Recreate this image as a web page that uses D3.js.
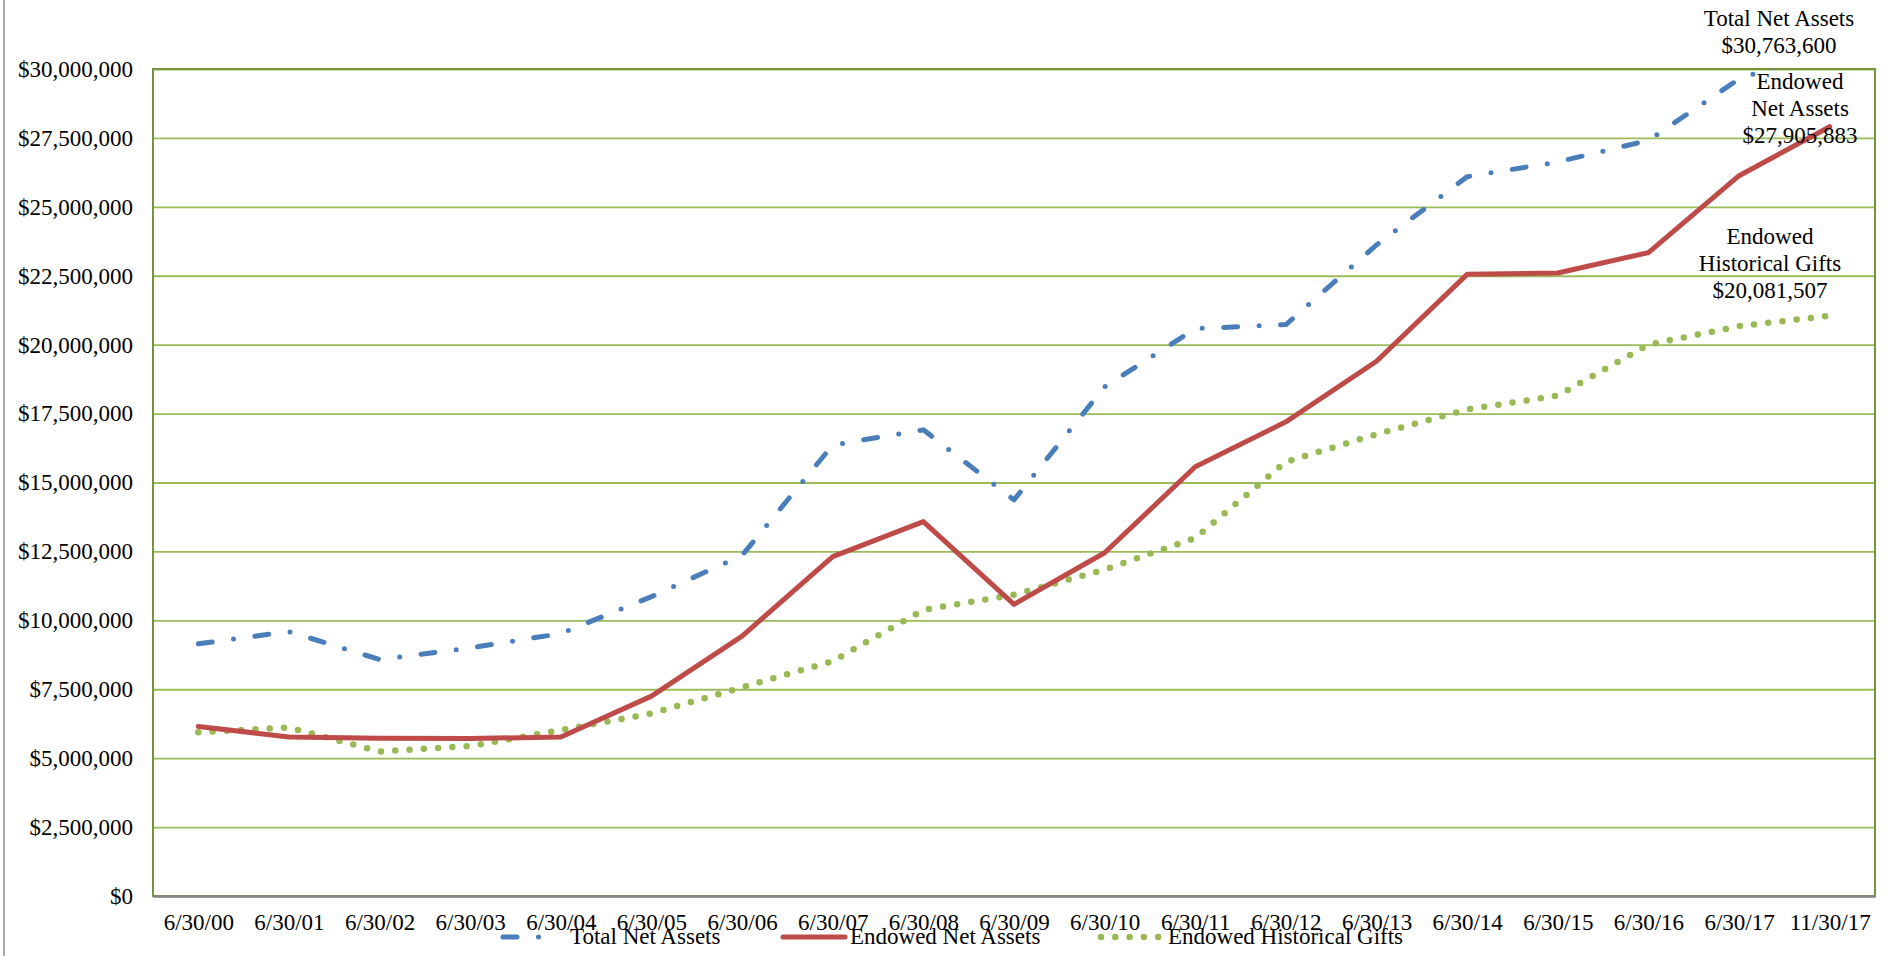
<!DOCTYPE html>
<html>
<head>
<meta charset="utf-8">
<script src="https://cdnjs.cloudflare.com/ajax/libs/d3/7.8.5/d3.min.js"></script>
<style>
  body { margin: 0; background: #fff; }
  svg { display: block; font-family: 'Liberation Serif', 'Times New Roman', serif; }
</style>
</head>
<body>
<svg></svg>
<script>
// categories (x axis)
var dates = ['6/30/00', '6/30/01', '6/30/02', '6/30/03', '6/30/04', '6/30/05', '6/30/06',
             '6/30/07', '6/30/08', '6/30/09', '6/30/10', '6/30/11', '6/30/12', '6/30/13',
             '6/30/14', '6/30/15', '6/30/16', '6/30/17', '11/30/17'];

// series values, dollars
var totalNetAssets = [9150000, 9590000, 8580000, 9000000, 9520000, 10860000, 12360000,
                      16360000, 16910000, 14370000, 18470000, 20580000, 20730000, 23620000,
                      26090000, 26630000, 27410000, 29640000, 30763600];
var endowedNetAssets = [6150000, 5770000, 5720000, 5710000, 5770000, 7250000, 9430000,
                        12310000, 13580000, 10580000, 12450000, 15570000, 17200000, 19400000,
                        22550000, 22600000, 23340000, 26130000, 27905883];
var historicalGifts = [5940000, 6110000, 5240000, 5440000, 6020000, 6620000, 7570000,
                       8520000, 10380000, 10930000, 11840000, 12990000, 15750000, 16750000,
                       17650000, 18150000, 20000000, 20670000, 21050000];

// y axis ticks
var yTicks = [0, 2500000, 5000000, 7500000, 10000000, 12500000, 15000000,
              17500000, 20000000, 22500000, 25000000, 27500000, 30000000];

// end-of-line notes
var notes = [
    ['Total Net Assets', '$30,763,600'],
    ['Endowed', 'Net Assets', '$27,905,883'],
    ['Endowed', 'Historical Gifts', '$20,081,507']
];

var width = 1892;
var height = 956;
var plotLeft = 153, plotRight = 1875, plotTop = 69, plotBottom = 896;

var series = [
    { name: 'Total Net Assets', values: totalNetAssets, color: '#4A7EBB', w: 5, dash: '14 21.5 0 21.5', key: 57 },
    { name: 'Endowed Net Assets', values: endowedNetAssets, color: '#BE4B48', w: 5, dash: null, key: 62 },
    { name: 'Endowed Historical Gifts', values: historicalGifts, color: '#98B954', w: 6.5, dash: '0 14.3', key: 62 }
];

var svg = d3.select('svg')
            .attr('width', width)
            .attr('height', height);

var xScale = d3.scalePoint()
               .domain(dates)
               .range([plotLeft, plotRight])
               .padding(0.5);

var yScale = d3.scaleLinear()
               .domain([0, 30000000])
               .range([plotBottom, plotTop]);

// outer frame edge
svg.append('line')
    .attr('x1', 4).attr('x2', 4)
    .attr('y1', 0).attr('y2', height)
    .attr('stroke', '#8c8c8c')
    .attr('stroke-width', 1.5);

//gridlines
svg.append('g')
    .attr('transform', 'translate(' + plotLeft + ',0)')
    .call(d3.axisLeft(yScale).tickValues(yTicks).tickSize(-(plotRight - plotLeft)).tickFormat(''))
    .call(g => g.select('.domain').remove())
    .call(g => g.selectAll('line')
                .attr('stroke', '#9BBB59')
                .attr('stroke-width', 1.8));

// plot border
svg.append('rect')
    .attr('x', plotLeft)
    .attr('y', plotTop)
    .attr('width', plotRight - plotLeft)
    .attr('height', plotBottom - plotTop)
    .attr('fill', 'none')
    .attr('stroke', '#77933C')
    .attr('stroke-width', 2);

// y axis labels
var yAxis = d3.axisLeft(yScale)
              .tickValues(yTicks)
              .tickSize(0)
              .tickPadding(20)
              .tickFormat(d3.format('$,'));

svg.append('g')
    .attr('transform', 'translate(' + plotLeft + ',0)')
    .call(yAxis)
    .call(g => g.select('.domain').remove())
    .call(g => g.selectAll('text')
                .attr('fill', '#000')
                .style('font-family', "'Liberation Serif', serif")
                .style('font-size', '23px'));

// x axis
var xAxis = d3.axisBottom(xScale)
              .tickSize(0)
              .tickPadding(18);

svg.append('g')
    .attr('transform', 'translate(0,' + plotBottom + ')')
    .call(xAxis)
    .call(g => g.select('.domain')
                .attr('stroke', '#868686')
                .attr('stroke-width', 2.5))
    .call(g => g.selectAll('text')
                .attr('fill', '#000')
                .style('font-family', "'Liberation Serif', serif")
                .style('font-size', '23px'));

// clip to plot area (total line runs over the top)
svg.append('clipPath')
    .attr('id', 'plot-clip')
    .append('rect')
    .attr('x', plotLeft)
    .attr('y', plotTop)
    .attr('width', plotRight - plotLeft)
    .attr('height', plotBottom - plotTop);

var line = d3.line()
             .x((d, i) => xScale(dates[i]))
             .y(d => yScale(d));

// draw gifts first, total last
[2, 1, 0].forEach(k => {
    var s = series[k];
    svg.append('path')
        .datum(s.values)
        .attr('clip-path', 'url(#plot-clip)')
        .attr('d', line)
        .attr('fill', 'none')
        .attr('stroke', s.color)
        .attr('stroke-width', s.w)
        .attr('stroke-linecap', 'round')
        .attr('stroke-linejoin', 'round')
        .attr('stroke-dasharray', s.dash);
});

// notes
var noteX = [1779, 1800, 1770];
var noteY = [26, 89, 244];

notes.forEach((lines, k) => {
    var t = svg.append('text')
               .attr('text-anchor', 'middle')
               .style('font-size', '23px')
               .attr('fill', '#000');
    lines.forEach((txt, j) => {
        t.append('tspan')
            .attr('x', noteX[k])
            .attr('y', noteY[k] + j * 27)
            .text(txt);
    });
});

//Legend
var legendX = [503, 783, 1101];

var legend = svg.append('g')
                .attr('id', 'legend')
                .selectAll('g')
                .data(series)
                .enter()
                .append('g')
                .attr('transform', (d, i) => 'translate(' + legendX[i] + ',937)');

legend.append('line')
    .attr('x1', 0)
    .attr('x2', d => d.key)
    .attr('y1', 0)
    .attr('y2', 0)
    .attr('stroke', d => d.color)
    .attr('stroke-width', d => d.w)
    .attr('stroke-linecap', 'round')
    .attr('stroke-dasharray', d => d.dash);

legend.append('text')
    .attr('x', 67)
    .attr('y', 7)
    .style('font-size', '23px')
    .attr('fill', '#000')
    .text(d => d.name);
</script>
</body>
</html>
